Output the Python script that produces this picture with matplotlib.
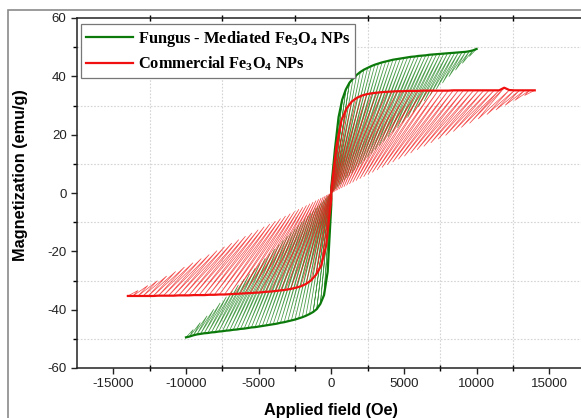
import numpy as np
import matplotlib
matplotlib.use("Agg")
import matplotlib.pyplot as plt
from matplotlib.patches import Rectangle

plt.rcParams['font.family'] = ['Liberation Sans', 'DejaVu Sans']
plt.rcParams['axes.unicode_minus'] = False
plt.rcParams['mathtext.fontset'] = 'custom'
plt.rcParams['mathtext.rm'] = 'Liberation Serif:bold'
plt.rcParams['mathtext.it'] = 'Liberation Serif:bold'
plt.rcParams['mathtext.bf'] = 'Liberation Serif:bold'

# ---- fungus-mediated Fe3O4 ----
# branch points, field in Oe (upper branch at +field, lower branch at -field)
g_field = [0, 250, 500, 750, 1000, 1250, 1500, 1750, 2000, 2250, 2500, 2750, 3000,
           3250, 3500, 3750, 4000, 4250, 4500, 4750, 5000, 5250, 5500, 5750, 6000,
           6250, 6500, 6750, 7000, 7250, 7500, 7750, 8000, 8250, 8500, 8750, 9000,
           9250, 9500, 9750, 10000]
g_upper = [2, 15, 26, 32, 35.5, 37.8, 39.3, 40.5, 41.5, 42.3, 42.9, 43.5, 44, 44.4,
           44.8, 45.1, 45.4, 45.7, 45.9, 46.1, 46.3, 46.5, 46.7, 46.8, 47, 47.1, 47.2,
           47.4, 47.5, 47.6, 47.7, 47.8, 47.9, 48, 48.1, 48.2, 48.3, 48.4, 48.6, 48.9, 49.4]
g_lower = [-4, -27, -35, -38, -39.8, -40.8, -41.5, -42.1, -42.6, -43, -43.4, -43.7, -44,
           -44.3, -44.5, -44.8, -45, -45.2, -45.4, -45.6, -45.8, -46, -46.1, -46.3, -46.5,
           -46.6, -46.8, -46.9, -47.1, -47.2, -47.4, -47.5, -47.7, -47.8, -48, -48.1,
           -48.3, -48.5, -48.8, -49.2, -49.5]
# the points on the straight chord each branch point got joined to
g_chord_h = [0, 6, 25, 56, 100, 156, 225, 306, 400, 506, 625, 756, 900, 1056, 1225, 1406,
             1600, 1806, 2025, 2256, 2500, 2756, 3025, 3306, 3600, 3906, 4225, 4556, 4900,
             5256, 5625, 6006, 6400, 6806, 7225, 7656, 8100, 8556, 9025, 9506, 10000]
g_chord_m = [0, 0.03, 0.12, 0.28, 0.49, 0.77, 1.11, 1.51, 1.97, 2.5, 3.08, 3.73, 4.44,
             5.21, 6.04, 6.93, 7.89, 8.9, 9.98, 11.12, 12.33, 13.59, 14.91, 16.3, 17.75,
             19.26, 20.83, 22.46, 24.16, 25.91, 27.73, 29.61, 31.55, 33.55, 35.62, 37.74,
             39.93, 42.18, 44.49, 46.86, 49.4]

# ---- commercial Fe3O4 ----
r_field = [0, 350, 700, 1050, 1400, 1750, 2100, 2450, 2800, 3150, 3500, 3850, 4200, 4550,
           4900, 5250, 5600, 5950, 6300, 6650, 7000, 7350, 7700, 8050, 8400, 8750, 9100,
           9450, 9800, 10150, 10500, 10850, 11200, 11550, 11900, 12250, 12600, 12950,
           13300, 13650, 14000]
r_upper = [1, 16, 25, 29, 31.3, 32.6, 33.4, 33.9, 34.2, 34.4, 34.6, 34.7, 34.8, 34.9,
           34.9, 35, 35, 35, 35.1, 35.1, 35.1, 35.1, 35.1, 35.1, 35.2, 35.2, 35.2, 35.2,
           35.2, 35.2, 35.2, 35.2, 35.2, 35.2, 36.1, 35.3, 35.2, 35.2, 35.2, 35.2, 35.2]
r_lower = [-2, -18, -25, -28, -30, -31.2, -32, -32.5, -32.9, -33.2, -33.4, -33.6, -33.8,
           -33.9, -34.1, -34.2, -34.3, -34.4, -34.5, -34.6, -34.7, -34.8, -34.8, -34.9,
           -34.9, -35, -35, -35, -35.1, -35.1, -35.1, -35.2, -35.2, -35.2, -35.2, -35.3,
           -35.3, -35.3, -35.3, -35.3, -35.3]
r_chord_h = [0, 9, 35, 79, 140, 219, 315, 429, 560, 709, 875, 1059, 1260, 1479, 1715,
             1969, 2240, 2529, 2835, 3159, 3500, 3859, 4235, 4629, 5040, 5469, 5915, 6379,
             6860, 7359, 7875, 8409, 8960, 9529, 10115, 10719, 11340, 11979, 12635, 13309,
             14000]
r_chord_m = [0, 0.02, 0.09, 0.2, 0.35, 0.55, 0.79, 1.08, 1.41, 1.78, 2.2, 2.66, 3.17,
             3.72, 4.31, 4.95, 5.63, 6.36, 7.13, 7.94, 8.8, 9.7, 10.65, 11.64, 12.67,
             13.75, 14.87, 16.04, 17.25, 18.5, 19.8, 21.14, 22.53, 23.96, 25.43, 26.95,
             28.51, 30.12, 31.77, 33.46, 35.2]

labels = ['Fungus - Mediated Fe$_3$O$_4$ NPs', 'Commercial Fe$_3$O$_4$ NPs']
colors = ['#0b7a0b', '#f01010']

fig = plt.figure(figsize=(5.81, 4.18), dpi=100)
ax = fig.add_axes([77 / 581, 1 - 368 / 418, 508.6 / 581, 350 / 418])


def zigzag(h1, m1, h2, m2):
    # branch point -> chord point -> next branch point ...
    xs = np.column_stack([h1, h2]).ravel()
    ys = np.column_stack([m1, m2]).ravel()
    return xs, ys


def draw_loop(field, upper, lower, ch_h, ch_m, col, lab):
    f = np.array(field, float)
    up = np.array(upper, float)
    lo = np.array(lower, float)
    chh = np.array(ch_h, float)
    chm = np.array(ch_m, float)
    for hh, mm, cx, cy in [(f, up, chh, chm), (-f, lo, -chh, -chm)]:
        xs, ys = zigzag(hh, mm, cx, cy)
        ax.plot(xs, ys, color=col, lw=0.5, alpha=0.75)
    ax.plot(np.concatenate([-f[::-1], f]), np.concatenate([lo[::-1], up]),
            color=col, lw=1.6, label=lab)


draw_loop(g_field, g_upper, g_lower, g_chord_h, g_chord_m, colors[0], labels[0])
draw_loop(r_field, r_upper, r_lower, r_chord_h, r_chord_m, colors[1], labels[1])

ax.set_xlim(-17500, 17500)
ax.set_ylim(-60, 60)
ax.set_xticks([-15000, -10000, -5000, 0, 5000, 10000, 15000])
ax.set_xticks([-12500, -7500, -2500, 2500, 7500, 12500], minor=True)
ax.set_yticks([-60, -40, -20, 0, 20, 40, 60])
ax.set_yticks([-50, -30, -10, 10, 30, 50], minor=True)
ax.grid(which='minor', color='#d4d4d4', linestyle=(0, (1.5, 1.5)), lw=0.8)
ax.tick_params(which='major', direction='out', length=4, width=1, labelsize=9.5,
               colors='#222222')
ax.tick_params(which='minor', direction='out', length=3, width=1)
ax.tick_params(axis='x', which='minor', top=True)
ax.tick_params(axis='x', which='minor', direction='inout', length=5)
for s in ['left', 'bottom', 'top']:
    ax.spines[s].set_linewidth(1.1)
    ax.spines[s].set_color('#222222')
ax.spines['right'].set_visible(False)

ax.set_xlabel('Applied field (Oe)', fontsize=11.7, fontweight='bold', labelpad=9)
ax.set_ylabel('Magnetization (emu/g)', fontsize=11.7, fontweight='bold')
ax.yaxis.set_label_coords(-0.096, 0.55)

leg = ax.legend(loc='upper left', bbox_to_anchor=(0.008, 0.983), borderaxespad=0,
                fancybox=False, edgecolor='#777777', framealpha=1,
                prop={'family': 'Liberation Serif', 'weight': 'bold', 'size': 11.8},
                handlelength=2.85, handletextpad=0.3, borderpad=0.3, labelspacing=0.35)
leg.get_frame().set_linewidth(0.9)

fig.add_artist(Rectangle((8 / 581, -0.05), 1.2, 1 - 10 / 418 + 0.05, transform=fig.transFigure,
                         fill=False, edgecolor='#8a8a8a', lw=1.2))

fig.savefig('out.png', dpi=100)
